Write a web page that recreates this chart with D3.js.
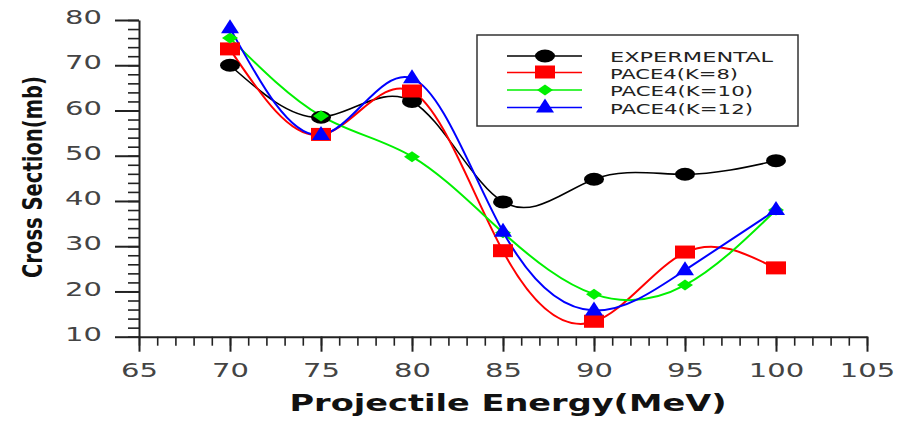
<!DOCTYPE html>
<html>
<head>
<meta charset="utf-8">
<script src="https://d3js.org/d3.v7.min.js"></script>
<style>
  body { margin: 0; background: #fff; }
  svg { display: block; }
</style>
</head>
<body>
<div id="chart"></div>
<script>
// data
const energy = [70, 75, 80, 85, 90, 95, 100];
const expt   = [70, 58.5, 62, 39.8, 44.8, 45.9, 48.9];
const pace8  = [73.5, 54.6, 64.2, 28.9, 13.3, 28.6, 25.1];
const pace10 = [76, 58.8, 49.8, 33, 19.4, 21.4, 38];
const pace12 = [78.2, 54.6, 67.1, 33.2, 15.8, 24.7, 38];
const seriesNames = ["EXPERMENTAL", "PACE4(K=8)", "PACE4(K=10)", "PACE4(K=12)"];
const xTicks = [65, 70, 75, 80, 85, 90, 95, 100, 105];
const yTicks = [10, 20, 30, 40, 50, 60, 70, 80];

const width = 904, height = 422;
const stretch = 1.45; // the figure is stretched sideways

const series = [
  { name: seriesNames[0], values: expt,   color: "#000000", shape: "circle",   lw: 1.6 },
  { name: seriesNames[1], values: pace8,  color: "#ff0000", shape: "square",   lw: 2 },
  { name: seriesNames[2], values: pace10, color: "#00f000", shape: "diamond",  lw: 2 },
  { name: seriesNames[3], values: pace12, color: "#0000ff", shape: "triangle", lw: 2 }
];

const svg = d3.select("#chart").append("svg")
  .attr("width", width)
  .attr("height", height);

const x = d3.scaleLinear().domain([65, 105]).range([139, 867]);
const y = d3.scaleLinear().domain([10, 80]).range([336.7, 20]);

// widen a text element horizontally
function widen(sel, k) {
  sel.each(function () {
    const len = this.getComputedTextLength();
    d3.select(this).attr("textLength", len * k).attr("lengthAdjust", "spacingAndGlyphs");
  });
}

// minor ticks
svg.append("g")
  .attr("transform", `translate(0,${y(10)})`)
  .call(d3.axisBottom(x).tickValues(d3.range(65, 106, 1)).tickSize(9).tickFormat(""))
  .call(g => g.select(".domain").remove())
  .call(g => g.selectAll("line").attr("stroke", "#222").attr("stroke-width", 1.6));

svg.append("g")
  .attr("transform", `translate(${x(65)},0)`)
  .call(d3.axisLeft(y).tickValues(d3.range(10, 81, 2)).tickSize(11).tickFormat(""))
  .call(g => g.select(".domain").remove())
  .call(g => g.selectAll("line").attr("stroke", "#222").attr("stroke-width", 1.6));

// major axes
const xAxis = svg.append("g")
  .attr("transform", `translate(0,${y(10)})`)
  .call(d3.axisBottom(x).tickValues(xTicks).tickSize(15).tickSizeOuter(0).tickPadding(10));

const yAxis = svg.append("g")
  .attr("transform", `translate(${x(65)},0)`)
  .call(d3.axisLeft(y).tickValues(yTicks).tickSize(24).tickSizeOuter(0).tickPadding(13));

[xAxis, yAxis].forEach(g => {
  g.select(".domain").attr("stroke", "#222").attr("stroke-width", 2);
  g.selectAll(".tick line").attr("stroke", "#222").attr("stroke-width", 2);
  g.selectAll(".tick text")
    .attr("fill", "#444")
    .attr("font-family", "DejaVu Sans, sans-serif")
    .attr("font-size", 20);
});
xAxis.selectAll(".tick text").attr("dy", "0.75em").call(widen, stretch);
yAxis.selectAll(".tick text").attr("dy", "0.18em").call(widen, stretch);

// axis titles
svg.append("text")
  .attr("x", 508)
  .attr("y", 411)
  .attr("text-anchor", "middle")
  .attr("font-family", "DejaVu Sans, sans-serif")
  .attr("font-weight", "bold")
  .attr("font-size", 23)
  .attr("fill", "#111")
  .attr("textLength", 437)
  .attr("lengthAdjust", "spacingAndGlyphs")
  .text("Projectile Energy(MeV)");

svg.append("text")
  .attr("transform", "translate(42,177) rotate(-90)")
  .attr("text-anchor", "middle")
  .attr("font-family", "DejaVu Sans, sans-serif")
  .attr("font-weight", "bold")
  .attr("font-size", 27)
  .attr("fill", "#111")
  .attr("textLength", 202)
  .attr("lengthAdjust", "spacingAndGlyphs")
  .text("Cross Section(mb)");

// marker drawing
function marker(g, shape, color) {
  if (shape === "circle") {
    g.append("ellipse").attr("rx", 10).attr("ry", 6.5).attr("fill", color);
  } else if (shape === "square") {
    g.append("rect").attr("x", -10).attr("y", -7).attr("width", 20).attr("height", 13).attr("fill", color);
  } else if (shape === "diamond") {
    g.append("path").attr("d", "M-8,0L0,-5.5L8,0L0,5.5Z").attr("fill", color);
  } else {
    g.append("path").attr("d", "M0,-9L9,5L-9,5Z").attr("fill", color);
  }
}

const line = d3.line()
  .x((d, i) => x(energy[i]))
  .y(d => y(d))
  .curve(d3.curveNatural);

series.forEach(s => {
  svg.append("path")
    .datum(s.values)
    .attr("fill", "none")
    .attr("stroke", s.color)
    .attr("stroke-width", s.lw)
    .attr("d", line);
});

series.forEach(s => {
  s.values.forEach((v, i) => {
    const g = svg.append("g").attr("transform", `translate(${x(energy[i])},${y(v)})`);
    marker(g, s.shape, s.color);
  });
});

// legend
const legend = svg.append("g");
legend.append("rect")
  .attr("x", 477).attr("y", 35)
  .attr("width", 321).attr("height", 91)
  .attr("fill", "#fff")
  .attr("stroke", "#333")
  .attr("stroke-width", 1.5);

const rowY = [56, 72.5, 90, 107.5];
const textW = [163, 128, 143, 143];
series.forEach((s, i) => {
  const row = legend.append("g").attr("transform", `translate(0,${rowY[i]})`);
  row.append("line")
    .attr("x1", 507).attr("x2", 582)
    .attr("stroke", s.color).attr("stroke-width", 1.6);
  const m = row.append("g").attr("transform", "translate(545,0)");
  marker(m, s.shape, s.color);
  row.append("text")
    .attr("x", 610)
    .attr("y", 6)
    .attr("font-family", "DejaVu Sans, sans-serif")
    .attr("font-size", 14.5)
    .attr("fill", "#222")
    .attr("textLength", textW[i])
    .attr("lengthAdjust", "spacingAndGlyphs")
    .text(s.name);
});
</script>
</body>
</html>
